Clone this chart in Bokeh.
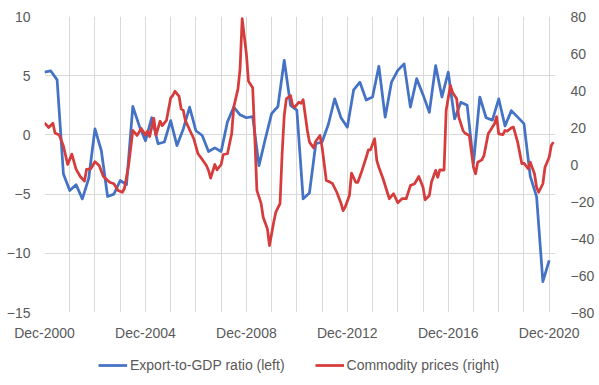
from bokeh.plotting import figure
from bokeh.layouts import column
from bokeh.models import Range1d, LinearAxis, FixedTicker, Legend, LegendItem
from bokeh.embed import file_html
from bokeh.resources import INLINE

# ---- data ----
# x positions: months since Dec-2000
tick_months = [0, 48, 96, 144, 192, 240]
tick_labels = ["Dec-2000", "Dec-2004", "Dec-2008", "Dec-2012", "Dec-2016", "Dec-2020"]
grid_months = list(range(0, 241, 12))

# Export-to-GDP ratio (left axis), quarterly Dec-2000 .. Dec-2020
export_months = list(range(0, 241, 3))
export_gdp = [5.3, 5.4, 4.65, -3.3, -4.7, -4.2, -5.4, -3.7, 0.5, -1.3, -5.2, -5.0,
              -3.85, -4.2, 2.4, 0.8, -0.5, 1.45, -0.75, -0.6, 1.2, -0.9, 0.5, 2.35,
              0.35, -0.05, -1.4, -1.1, -1.4, 1.1, 2.35, 1.7, 1.45, 1.55, -2.6, -0.35,
              1.8, 2.4, 6.3, 2.5, 2.1, -5.4, -4.9, -0.75, -0.6, 0.9, 3.05, 1.45,
              0.65, 3.8, 4.45, 2.95, 3.2, 5.8, 1.5, 4.45, 5.45, 6.0, 2.35, 4.75,
              3.4, 1.9, 5.85, 3.2, 5.3, 1.35, 2.75, 2.5, -2.4, 3.2, 1.45, 1.25,
              3.05, 0.75, 2.05, 1.5, 0.95, -3.5, -5.2, -12.4, -10.6]

# Commodity prices (right axis)
commodity_months = [0, 2, 4, 5, 7, 9, 11, 13, 15, 17, 19, 20, 22, 24, 26, 28, 31, 33, 35, 37,
                    38, 40, 42, 44, 46, 48, 49, 50, 52, 53, 55, 56, 58, 60, 61, 62, 64, 65,
                    66, 67, 69, 71, 73, 74, 77, 78, 79, 81, 82, 84, 85, 87, 89, 90, 92, 93,
                    94, 96, 97, 99, 100, 101, 103, 104, 106, 107, 109, 110, 112, 113, 114,
                    115, 117, 118, 119, 121, 122, 123, 125, 126, 128, 129, 131, 132, 133,
                    134, 136, 137, 139, 141, 142, 143, 145, 146, 148, 149, 151, 153, 154,
                    155, 157, 158, 159, 161, 163, 164, 166, 168, 170, 172, 174, 176, 178,
                    180, 181, 183, 184, 186, 187, 188, 190, 191, 193, 194, 196, 197, 199,
                    200, 202, 204, 205, 206, 208, 209, 211, 212, 214, 215, 216, 218, 219,
                    220, 222, 223, 225, 227, 228, 230, 231, 233, 234, 235, 237, 238, 240,
                    241, 242]
commodity = [22.5, 20, 22.3, 17, 16, 10, 0, 5.6, -2.5, -6.5, -9, -2.6, -2.3, 1.5, -0.5, -6.5,
             -9.6, -10.4, -14, -15, -13, -0.5, 18.4, 15.7, 19.5, 16, 18, 15.1, 25, 15.7,
             23.4, 21, 23.8, 36, 37.3, 39.6, 36.8, 30, 29.2, 23.8, 18.8, 13.9, 5.8, 4.3,
             -0.5, -3.2, -7.4, 0, -2.9, 0, 5.4, 5.8, 16.6, 31, 40.9, 51.7, 78.8, 59.8, 45,
             41.5, 15, -14, -21, -28.5, -34.8, -43.8, -31.2, -25.8, -21.2, 5.8, 26.5, 35.5,
             37.3, 31.9, 31, 33.7, 33.1, 35, 18.4, 12.1, 9, 12.6, 15.7, 9.4, 0.4, -8.6,
             -9.6, -10.4, -15, -21, -24.9, -23, -16.8, -4.7, -9.6, -9.6, -3.2, 3.9, 7.9,
             7.9, 13.9, 2.2, -1.5, -7.7, -15, -18.5, -15.8, -20.7, -18.5, -18.5, -11.4,
             -10.4, -6.5, -12.3, -19.1, -16.8, -9.6, -3.2, -6.9, -2.9, -3, 29.2, 42.7,
             39.1, 35.5, 25.6, 18.4, 16.9, 15.7, -1.5, -5, 1.2, 2.5, 4.9, 16.6, 18.4, 22,
             25.9, 16.6, 16.2, 18.4, 18, 19.8, 20.2, 12.1, 0.4, 0.7, -2.3, 1.2, -5, -12.3,
             -15, -10.4, -1.5, 3.9, 10.3, 12.1]

left_ticks = [-15, -10, -5, 0, 5, 10]
right_ticks = [-80, -60, -40, -20, 0, 20, 40, 60, 80]
series_labels = ["Export-to-GDP ratio (left)", "Commodity prices (right)"]

BLUE = "#4472C4"
RED = "#D63C3C"
GRID = "#D9D9D9"
TXT = "#595959"
FONT = "Liberation Sans"
FS = "14px"
LW = 2.75

p = figure(frame_width=511, frame_height=296, output_backend="svg", toolbar_location=None,
           x_range=Range1d(0, 243), y_range=Range1d(-15, 10),
           min_border_left=44, min_border_right=43, min_border_top=16, min_border_bottom=0)
p.extra_y_ranges = {"right": Range1d(-80, 80)}
p.outline_line_color = None
p.background_fill_color = "white"
p.border_fill_color = "white"

# axes
p.xaxis.ticker = FixedTicker(ticks=tick_months)
p.xaxis.major_label_overrides = {m: l for m, l in zip(tick_months, tick_labels)}
p.yaxis.ticker = FixedTicker(ticks=left_ticks)
ax_r = LinearAxis(y_range_name="right", ticker=FixedTicker(ticks=right_ticks))
p.add_layout(ax_r, "right")

for ax in [p.xaxis[0], p.yaxis[0], ax_r]:
    ax.axis_line_color = None
    ax.major_tick_line_color = None
    ax.minor_tick_line_color = None
    ax.major_tick_out = 0
    ax.major_tick_in = 0
    ax.major_label_text_font = FONT
    ax.major_label_text_font_size = FS
    ax.major_label_text_color = TXT
p.xaxis.major_label_standoff = 12
p.yaxis[0].major_label_standoff = 14
ax_r.major_label_standoff = 15

p.xgrid.ticker = FixedTicker(ticks=grid_months)
p.xgrid.grid_line_color = GRID
p.ygrid.ticker = FixedTicker(ticks=left_ticks)
p.ygrid.grid_line_color = GRID

p.line(export_months, export_gdp, line_color=BLUE, line_width=LW, line_join="round")
p.line(commodity_months, commodity, line_color=RED, line_width=LW, line_join="round",
       y_range_name="right")

# legend strip below the chart (series drawn off-view, only their legend samples show)
pl = figure(frame_width=598, frame_height=44, output_backend="svg", toolbar_location=None,
            x_range=Range1d(1000, 1100), y_range=Range1d(-15, 10),
            x_axis_location=None, y_axis_location=None,
            min_border_left=0, min_border_right=0, min_border_top=0, min_border_bottom=0)
pl.outline_line_color = None
pl.grid.visible = False
l1 = pl.line(export_months, export_gdp, line_color=BLUE, line_width=LW)
l2 = pl.line(commodity_months, commodity, line_color=RED, line_width=LW)
legend = Legend(items=[LegendItem(label=series_labels[0], renderers=[l1]),
                       LegendItem(label=series_labels[1], renderers=[l2])],
                orientation="horizontal", location=(98, 14),
                glyph_width=29, glyph_height=16, label_standoff=3, spacing=30,
                padding=0, margin=0, border_line_color=None, background_fill_alpha=0,
                label_text_font=FONT, label_text_font_size=FS, label_text_color=TXT)
pl.add_layout(legend)

layout = column(p, pl, spacing=0)
open("out.html", "w").write(file_html(layout, INLINE))
